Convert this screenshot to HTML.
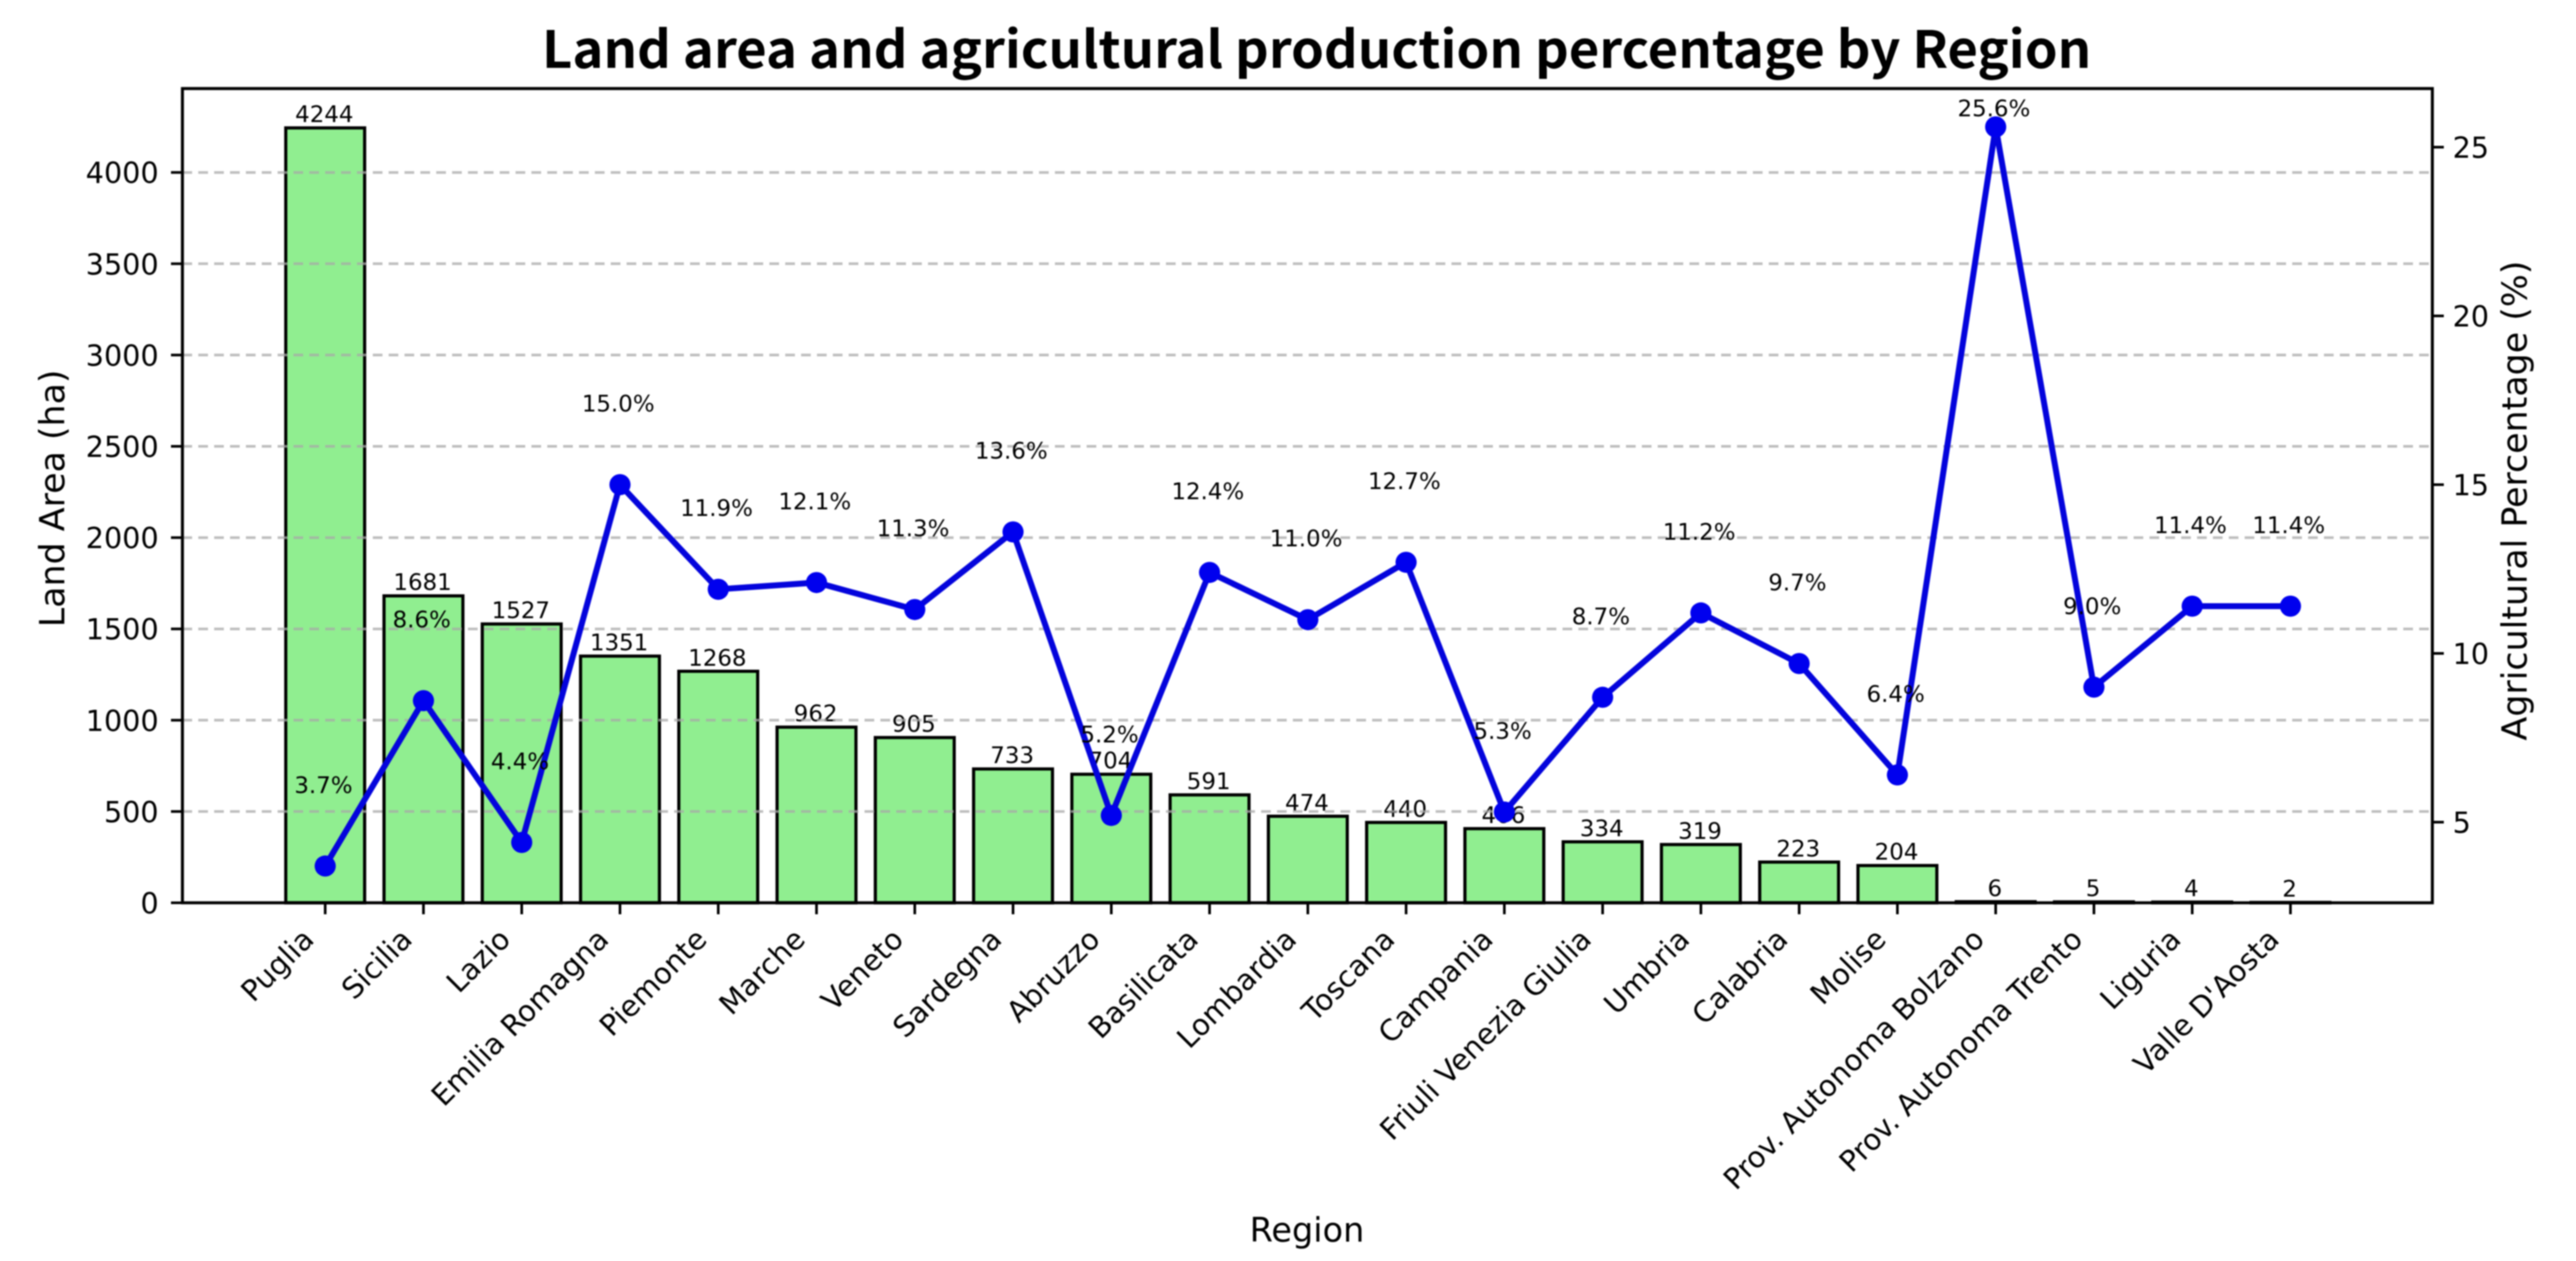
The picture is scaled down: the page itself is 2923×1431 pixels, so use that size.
<!DOCTYPE html>
<html lang="en">
<head>
<meta charset="utf-8">
<title>Land area and agricultural production percentage by Region</title>
<style>
html,body{margin:0;padding:0;background:#fff;width:2923px;height:1431px;overflow:hidden}
svg{display:block;filter:blur(0.9px)}
text{font-family:"DejaVu Sans","Liberation Sans",sans-serif;fill:#000}
</style>
</head>
<body>
<svg id="chart" xmlns="http://www.w3.org/2000/svg" width="2923" height="1431" viewBox="0 0 2923 1431">
  <rect x="0" y="0" width="2923" height="1431" fill="#fff"/>
  <g id="bars"></g>
  <g id="bar-labels"></g>
  <g id="grid"></g>
  <g id="axis-ticks"></g>
  <g id="line"></g>
  <g id="pct-labels"></g>
  <rect x="207" y="100.5" width="2553" height="924" fill="none" stroke="#000" stroke-width="3.4"/>
  <text x="1494" y="77" text-anchor="middle" textLength="1758" lengthAdjust="spacingAndGlyphs" style="font-family:'Noto Sans CJK JP','DejaVu Sans',sans-serif;font-weight:700;font-size:58px">Land area and agricultural production percentage by Region</text>
  <text x="1483" y="1409" text-anchor="middle" font-size="38">Region</text>
  <text transform="translate(73,565.5) rotate(-90)" text-anchor="middle" font-size="39.5">Land Area (ha)</text>
  <text transform="translate(2867,568) rotate(-90)" text-anchor="middle" font-size="39.5">Agricultural Percentage (%)</text>
</svg>
<script>
const regions = ["Puglia","Sicilia","Lazio","Emilia Romagna","Piemonte","Marche","Veneto","Sardegna","Abruzzo","Basilicata","Lombardia","Toscana","Campania","Friuli Venezia Giulia","Umbria","Calabria","Molise","Prov. Autonoma Bolzano","Prov. Autonoma Trento","Liguria","Valle D'Aosta"];
const landArea = [4244,1681,1527,1351,1268,962,905,733,704,591,474,440,406,334,319,223,204,6,5,4,2];
const agriPercent = [3.7,8.6,4.4,15.0,11.9,12.1,11.3,13.6,5.2,12.4,11.0,12.7,5.3,8.7,11.2,9.7,6.4,25.6,9.0,11.4,11.4];
const leftTicks = [0,500,1000,1500,2000,2500,3000,3500,4000];
const rightTicks = [5,10,15,20,25];

const NS = "http://www.w3.org/2000/svg";
function xPos(i){ return 369 + 111.5 * i; }
function yLeft(v){ return 1024.5 - 0.2072 * v; }
function yRight(p){ return 1124.5 - 38.3 * p; }
function make(tag, attrs, parent, txt){
  const el = document.createElementNS(NS, tag);
  for (const k in attrs) el.setAttribute(k, attrs[k]);
  if (txt !== undefined) el.textContent = txt;
  parent.appendChild(el);
  return el;
}
const gBars = document.getElementById("bars");
const gBarLabels = document.getElementById("bar-labels");
const gGrid = document.getElementById("grid");
const gTicks = document.getElementById("axis-ticks");
const gLine = document.getElementById("line");
const gPct = document.getElementById("pct-labels");
const barW = 89.5;

regions.forEach(function(name, i){
  const top = yLeft(landArea[i]);
  const bar = make("rect", {x: xPos(i) - barW / 2, y: top, width: barW, height: yLeft(0) - top, fill: "#90ee90", stroke: "#000", "stroke-width": 3.6}, gBars);
  
  
  const val = make("text", {x: xPos(i) - 1, y: top - 6.5, "text-anchor": "middle", "font-size": 26}, gBarLabels, String(landArea[i]));
  
  
  const tick = make("line", {x1: xPos(i), x2: xPos(i), y1: yLeft(0), y2: yLeft(0) + 13, stroke: "#000", "stroke-width": 3}, gTicks);
  
  
  const px = xPos(i) - 11, py = 1068;
  const lab = make("text", {transform: "translate(" + px + "," + py + ") rotate(-45)", "text-anchor": "end", "font-size": 33}, gTicks, name);
  
  
});

leftTicks.forEach(function(v){
  const y = yLeft(v);
  if (v > 0) {
    const g = make("line", {x1: 207, x2: 2760, y1: y, y2: y, stroke: "#a8a8a8", "stroke-opacity": 0.75, "stroke-width": 3, "stroke-dasharray": "11 7"}, gGrid);
    
    
  }
  const t = make("line", {x1: 194, x2: 207, y1: y, y2: y, stroke: "#000", "stroke-width": 3}, gTicks);
  
  
  const l = make("text", {x: 180, y: y + 12, "text-anchor": "end", "font-size": 32.5}, gTicks, String(v));
  
  
});

rightTicks.forEach(function(v){
  const y = yRight(v);
  const t = make("line", {x1: 2760, x2: 2773, y1: y, y2: y, stroke: "#000", "stroke-width": 3}, gTicks);
  
  
  const l = make("text", {x: 2783, y: y + 12, "text-anchor": "start", "font-size": 32.5}, gTicks, String(v));
  
  
});

const pts = agriPercent.map(function(p, i){ return xPos(i) + "," + yRight(p); }).join(" ");
const poly = make("polyline", {points: pts, fill: "none", stroke: "#0404dc", "stroke-width": 6.8, "stroke-linejoin": "round"}, gLine);


agriPercent.forEach(function(p, i){
  const c = make("circle", {cx: xPos(i), cy: yRight(p), r: 12, fill: "#0000ee"}, gLine);
  
  
  const ly = Math.max(yRight(p) - 83, 132);
  const t = make("text", {x: xPos(i) - 2, y: ly, "text-anchor": "middle", "font-size": 26}, gPct, p.toFixed(1) + "%");
  
  
});
</script>
</body>
</html>
